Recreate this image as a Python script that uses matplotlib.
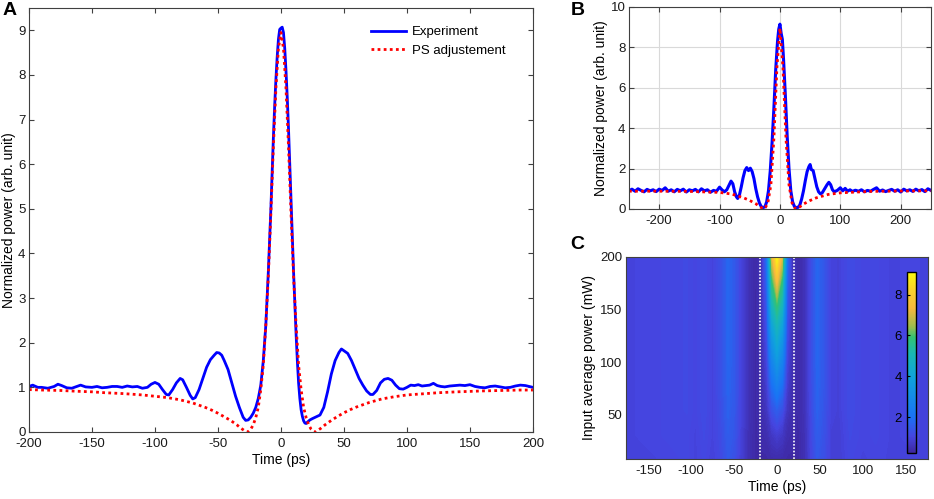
import numpy as np
import matplotlib
matplotlib.use("Agg")
import matplotlib.pyplot as plt
from matplotlib.colors import LinearSegmentedColormap, Normalize
from matplotlib.cm import ScalarMappable

plt.rcParams['font.family'] = ['Liberation Sans', 'DejaVu Sans']
plt.rcParams['font.size'] = 9.5
plt.rcParams['axes.unicode_minus'] = False

# ---- panel A: experiment and PS fit ----
tA = [-200, -197, -193, -190, -185, -180, -177, -174, -170, -166, -162, -159, -155, -150, -146, -142, -138,
      -134, -130, -126, -122, -118, -114, -110, -106, -103, -100, -97, -94, -91, -89, -86, -83, -80, -78, -75,
      -72, -70, -68, -65, -62, -59, -56, -53, -51, -49, -47, -45, -42, -39, -36, -33, -30, -28, -26, -24, -22,
      -20, -18, -16, -14, -12, -11, -10, -9, -8, -7, -6, -5, -4, -3, -2, -1, 0, 1, 2, 3, 4, 5, 6, 7, 8, 9, 10,
      11, 12, 13, 14, 15, 16, 17, 18, 19, 20, 21, 23, 25, 28, 31, 34, 37, 40, 43, 46, 48, 50, 53, 56, 59, 62,
      65, 68, 71, 73, 76, 79, 82, 85, 88, 91, 94, 97, 100, 103, 106, 109, 112, 115, 118, 121, 124, 127, 130,
      134, 138, 142, 146, 150, 154, 158, 162, 166, 170, 174, 178, 182, 186, 190, 194, 197, 200]
expA = [1.02, 1.05, 1.0, 1.0, 0.98, 1.02, 1.07, 1.04, 0.99, 0.98, 1.02, 1.05, 1.01, 1.0, 1.02, 0.99, 1.0,
        1.02, 1.02, 1.0, 1.03, 1.01, 1.02, 0.98, 1.0, 1.07, 1.11, 1.07, 0.95, 0.84, 0.83, 0.95, 1.1, 1.2, 1.17,
        1.0, 0.82, 0.74, 0.77, 0.95, 1.2, 1.45, 1.62, 1.72, 1.78, 1.77, 1.72, 1.6, 1.4, 1.1, 0.8, 0.55, 0.33,
        0.26, 0.27, 0.33, 0.42, 0.55, 0.75, 1.05, 1.6, 2.4, 3.0, 3.6, 4.3, 5.0, 5.8, 6.6, 7.3, 7.9, 8.4, 8.8,
        9.02, 9.05, 9.07, 8.95, 8.6, 8.1, 7.5, 6.8, 6.0, 5.2, 4.4, 3.6, 2.9, 2.2, 1.6, 1.1, 0.75, 0.5, 0.35,
        0.25, 0.2, 0.19, 0.22, 0.27, 0.3, 0.34, 0.38, 0.55, 0.9, 1.3, 1.6, 1.78, 1.86, 1.82, 1.76, 1.6, 1.4,
        1.2, 1.05, 0.92, 0.84, 0.84, 0.93, 1.1, 1.18, 1.2, 1.16, 1.05, 0.97, 0.96, 1.0, 1.05, 1.04, 1.06, 1.03,
        1.04, 1.05, 1.09, 1.04, 1.02, 1.01, 1.03, 1.04, 1.05, 1.04, 1.06, 1.02, 1.0, 0.99, 1.02, 1.03, 1.01,
        0.99, 1.0, 1.03, 1.05, 1.04, 1.02, 1.0]

tFitA = [-200, -190, -175, -160, -150, -140, -125, -110, -100, -90, -80, -70, -60, -55, -50, -45, -40, -35,
         -32, -30, -28, -27, -26, -24, -22, -20, -18, -16, -14, -12, -10, -8, -6, -4, -2, 0, 2, 4, 6, 8, 10,
         12, 14, 16, 18, 20, 22, 24, 26, 27, 28, 30, 32, 35, 40, 45, 50, 55, 60, 70, 80, 90, 100, 110, 125,
         140, 150, 160, 175, 190, 200]
fitA = [0.95, 0.94, 0.93, 0.91, 0.9, 0.88, 0.86, 0.83, 0.8, 0.77, 0.72, 0.65, 0.55, 0.49, 0.42, 0.34, 0.26,
        0.16, 0.09, 0.05, 0.01, 0.0, 0.01, 0.06, 0.16, 0.32, 0.55, 0.95, 1.5, 2.4, 3.5, 4.9, 6.4, 7.7, 8.6,
        8.95, 8.6, 7.7, 6.4, 4.9, 3.5, 2.4, 1.5, 0.95, 0.55, 0.32, 0.16, 0.06, 0.01, 0.0, 0.01, 0.05, 0.09,
        0.16, 0.26, 0.35, 0.43, 0.5, 0.56, 0.66, 0.74, 0.79, 0.83, 0.85, 0.88, 0.9, 0.91, 0.92, 0.93, 0.94,
        0.94]

# ---- panel B: wider time window ----
tB = [-250, -245, -240, -235, -230, -225, -220, -215, -210, -205, -200, -195, -190, -185, -180, -175, -170,
      -165, -160, -155, -150, -145, -140, -135, -130, -125, -120, -115, -110, -105, -100, -96, -92, -88, -84,
      -81, -78, -75, -72, -70, -67, -64, -61, -58, -55, -52, -49, -46, -43, -40, -37, -34, -31, -28, -25,
      -22, -19, -16, -13, -10, -7, -4, -2, 0, 2, 4, 6, 9, 12, 15, 18, 21, 24, 27, 30, 33, 36, 39, 42, 45, 48,
      50, 52, 55, 58, 61, 64, 67, 70, 74, 78, 81, 84, 87, 90, 95, 100, 104, 108, 112, 116, 120, 125, 130,
      135, 140, 145, 150, 155, 160, 165, 170, 175, 180, 185, 190, 195, 200, 205, 210, 215, 220, 225, 230,
      235, 240, 245, 250]
expB = [0.9, 0.98, 0.88, 1.0, 0.92, 0.85, 0.97, 0.9, 0.95, 0.86, 0.98, 0.92, 1.05, 0.88, 0.95, 0.85, 0.97,
        0.9, 0.98, 0.84, 0.95, 0.9, 0.97, 0.85, 1.0, 0.9, 0.95, 0.83, 0.92, 0.88, 1.08, 0.95, 0.85, 0.95, 1.2,
        1.38, 1.25, 0.85, 0.6, 0.52, 0.7, 1.1, 1.55, 1.9, 2.05, 1.9, 2.02, 1.85, 1.5, 1.0, 0.6, 0.3, 0.12,
        0.07, 0.1, 0.35, 0.9, 1.9, 3.3, 5.0, 6.9, 8.3, 8.9, 9.15, 8.7, 8.4, 7.4, 5.6, 3.6, 2.0, 0.9, 0.35,
        0.12, 0.07, 0.08, 0.2, 0.5, 0.9, 1.4, 1.85, 2.1, 2.2, 1.95, 1.9, 1.5, 1.1, 0.85, 0.75, 0.8, 1.0, 1.2,
        1.32, 1.2, 0.95, 0.85, 0.92, 1.05, 0.9, 1.02, 0.88, 0.95, 0.87, 0.93, 0.88, 0.95, 0.85, 0.92, 0.88,
        0.97, 1.05, 0.88, 0.94, 0.86, 0.92, 0.97, 0.88, 0.95, 0.84, 0.98, 0.9, 0.95, 0.87, 0.98, 0.9, 0.96,
        0.86, 1.0, 0.92]

tFitB = [-250, -200, -150, -100, -80, -60, -50, -40, -35, -30, -27, -24, -20, -15, -10, -5, 0, 5, 10, 15,
         20, 24, 27, 30, 35, 40, 50, 60, 80, 100, 150, 200, 250]
fitB = [0.88, 0.88, 0.87, 0.82, 0.74, 0.55, 0.42, 0.26, 0.15, 0.05, 0.0, 0.08, 0.3, 1.2, 3.5, 7.0, 8.95,
        7.0, 3.5, 1.2, 0.3, 0.08, 0.0, 0.05, 0.15, 0.26, 0.42, 0.55, 0.72, 0.8, 0.87, 0.89, 0.9]

# ---- panel C: power map ----
tC = [-176, -150, -125, -105, -95, -85, -75, -65, -57, -50, -42, -33, -25, -18, -12, -6, 0, 6, 12, 18, 25,
      33, 40, 47, 55, 63, 72, 85, 100, 115, 135, 155, 176]
powC = [8, 30, 55, 80, 105, 130, 155, 180, 200]
mapC = [
    [1.0, 1.0, 1.05, 1.1, 1.0, 1.1, 0.95, 1.15, 1.45, 1.3, 0.9, 0.5, 0.35, 0.35, 0.35, 0.4, 0.4, 0.4, 0.35, 0.35, 0.35, 0.55, 1.05, 1.45, 1.25, 0.95, 0.9, 1.1, 1.0, 1.05, 1.0, 1.0, 1.0],
    [1.0, 1.05, 1.1, 1.1, 1.0, 1.15, 1.0, 1.2, 1.55, 1.4, 0.95, 0.5, 0.35, 0.4, 0.45, 0.7, 0.85, 0.7, 0.45, 0.4, 0.35, 0.55, 1.1, 1.55, 1.3, 0.95, 0.9, 1.15, 1.05, 1.1, 1.0, 1.05, 1.0],
    [1.0, 1.05, 1.1, 1.15, 1.05, 1.2, 1.0, 1.25, 1.65, 1.45, 1.0, 0.55, 0.35, 0.45, 0.65, 1.3, 1.6, 1.3, 0.65, 0.45, 0.35, 0.6, 1.15, 1.65, 1.35, 1.0, 0.95, 1.2, 1.05, 1.1, 1.0, 1.05, 1.0],
    [1.0, 1.05, 1.1, 1.15, 1.05, 1.2, 1.0, 1.3, 1.7, 1.5, 1.0, 0.55, 0.35, 0.45, 0.85, 2.0, 2.6, 2.0, 0.85, 0.45, 0.35, 0.6, 1.2, 1.7, 1.4, 1.0, 0.95, 1.2, 1.05, 1.1, 1.0, 1.05, 1.0],
    [1.0, 1.05, 1.1, 1.15, 1.05, 1.2, 1.0, 1.3, 1.75, 1.5, 1.0, 0.55, 0.35, 0.5, 1.0, 2.8, 3.7, 2.8, 1.0, 0.5, 0.35, 0.6, 1.2, 1.75, 1.4, 1.0, 0.95, 1.2, 1.05, 1.1, 1.0, 1.05, 1.0],
    [1.0, 1.05, 1.1, 1.15, 1.05, 1.2, 1.0, 1.3, 1.75, 1.5, 1.0, 0.55, 0.35, 0.5, 1.2, 3.7, 4.7, 3.7, 1.2, 0.5, 0.35, 0.6, 1.2, 1.75, 1.4, 1.0, 0.95, 1.2, 1.05, 1.1, 1.0, 1.05, 1.0],
    [1.0, 1.05, 1.1, 1.15, 1.05, 1.2, 1.0, 1.3, 1.75, 1.5, 1.0, 0.55, 0.35, 0.55, 1.4, 4.9, 5.9, 4.9, 1.4, 0.55, 0.35, 0.6, 1.2, 1.75, 1.4, 1.0, 0.95, 1.2, 1.05, 1.1, 1.0, 1.05, 1.0],
    [1.0, 1.05, 1.1, 1.15, 1.05, 1.2, 1.0, 1.3, 1.75, 1.5, 1.0, 0.55, 0.35, 0.6, 1.7, 5.9, 7.6, 5.9, 1.7, 0.6, 0.35, 0.6, 1.2, 1.75, 1.4, 1.0, 0.95, 1.2, 1.05, 1.1, 1.0, 1.05, 1.0],
    [1.0, 1.05, 1.1, 1.15, 1.05, 1.2, 1.0, 1.3, 1.75, 1.5, 1.0, 0.55, 0.35, 0.6, 1.9, 7.0, 9.0, 7.0, 1.9, 0.6, 0.35, 0.6, 1.2, 1.75, 1.4, 1.0, 0.95, 1.2, 1.05, 1.1, 1.0, 1.05, 1.0],
]
gateC = [-20, 20]

# parula-like map
cmap_pts = [(0.0, (0.24, 0.15, 0.62)), (0.09, (0.27, 0.27, 0.88)), (0.2, (0.10, 0.45, 0.96)),
            (0.42, (0.06, 0.64, 0.86)), (0.55, (0.10, 0.72, 0.70)), (0.64, (0.20, 0.76, 0.45)),
            (0.7, (0.62, 0.74, 0.30)), (0.8, (0.97, 0.72, 0.24)), (0.9, (0.98, 0.82, 0.17)),
            (1.0, (0.98, 0.98, 0.06))]
parula = LinearSegmentedColormap.from_list('parula_like', cmap_pts)

blue = (0.0, 0.0, 1.0)
red = (1.0, 0.0, 0.0)
spine_col = '0.25'


def style_axes(ax):
    ax.tick_params(direction='in', top=True, right=True, length=3.5, width=0.8,
                   colors='0.25', labelcolor='0.1')
    ax.tick_params(axis='x', pad=4.5)
    ax.tick_params(axis='y', pad=2.5)
    for s in ax.spines.values():
        s.set_color(spine_col)
        s.set_linewidth(0.8)


fig = plt.figure(figsize=(9.34, 4.99), dpi=100)

# panel A
axA = fig.add_axes([0.031, 0.1343, 0.5396, 0.8497])
axA.plot(tA, expA, color=blue, lw=2, label='Experiment')
axA.plot(tFitA, fitA, color=red, lw=2, ls=(0, (1, 1.2)), label='PS adjustement')
axA.set_xlim(-200, 200)
axA.set_ylim(0, 9.5)
axA.set_xticks(np.arange(-200, 201, 50))
axA.set_yticks(np.arange(0, 10, 1))
axA.set_xlabel('Time (ps)', fontsize=10, labelpad=2)
axA.set_ylabel('Normalized power (arb. unit)', fontsize=10, labelpad=1.5)
style_axes(axA)
axA.legend(loc='upper right', bbox_to_anchor=(0.97, 0.985), frameon=False, fontsize=9.5,
           handlelength=2.6, handletextpad=0.5, labelspacing=0.45)

# panel B
axB = fig.add_axes([0.6734, 0.5812, 0.3233, 0.4048])
axB.plot(tB, expB, color=blue, lw=2.2)
axB.plot(tFitB, fitB, color=red, lw=2, ls=(0, (1, 1.2)))
axB.set_xlim(-250, 250)
axB.set_ylim(0, 10)
axB.set_xticks([-200, -100, 0, 100, 200])
axB.set_yticks(np.arange(0, 11, 2))
axB.grid(True, color='0.85', lw=0.8)
axB.set_axisbelow(True)
axB.set_ylabel('Normalized power (arb. unit)', fontsize=10, labelpad=2)
style_axes(axB)

# panel C
norm = Normalize(vmin=0.25, vmax=9.1)
axC = fig.add_axes([0.6702, 0.0802, 0.3233, 0.4048])
axC.contourf(tC, powC, np.array(mapC), levels=np.linspace(0.25, 9.1, 150), cmap=parula, norm=norm,
             extend='both')
for g in gateC:
    axC.axvline(g, color='white', lw=1.2, ls=(0, (1, 1)))
axC.set_xlim(-176, 176)
axC.set_ylim(8, 200)
axC.set_xticks([-150, -100, -50, 0, 50, 100, 150])
axC.set_yticks([50, 100, 150, 200])
axC.set_xlabel('Time (ps)', fontsize=10, labelpad=2)
axC.set_ylabel('Input average power (mW)', fontsize=10, labelpad=3)
style_axes(axC)
axC.tick_params(length=0)

cax = fig.add_axes([0.9711, 0.0922, 0.00964, 0.3627])
cb = fig.colorbar(ScalarMappable(norm=norm, cmap=parula), cax=cax, ticks=[2, 4, 6, 8])
cax.yaxis.set_ticks_position('left')
cax.yaxis.set_label_position('left')
cax.tick_params(direction='in', length=2.5, width=0.8, colors='black', labelsize=9.5)
cb.outline.set_edgecolor('black')
cb.outline.set_linewidth(1)

# panel letters
fig.text(0.003, 0.995, 'A', fontsize=14, fontweight='bold', va='top')
fig.text(0.611, 0.995, 'B', fontsize=14, fontweight='bold', va='top')
fig.text(0.611, 0.528, 'C', fontsize=14, fontweight='bold', va='top')

fig.savefig('out.png', dpi=100)
